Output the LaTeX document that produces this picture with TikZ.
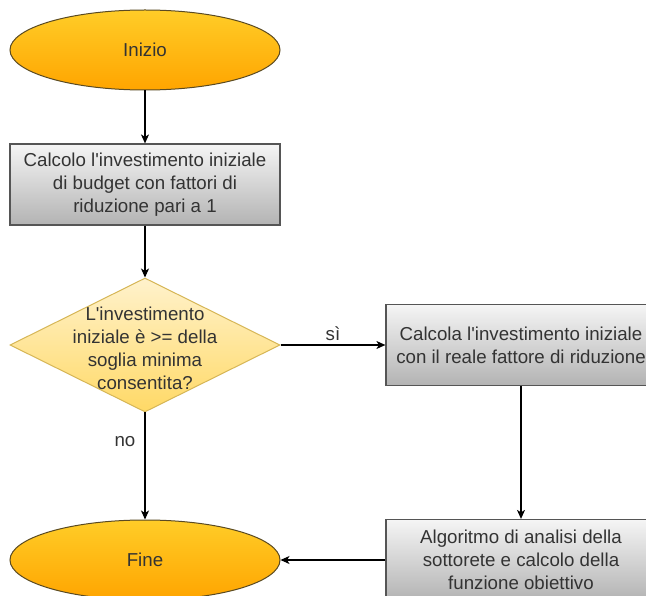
\documentclass[tikz,border=0pt]{standalone}
\usepackage{fontspec}
\setmainfont{Liberation Sans}[Ligatures=TeXOff]
\usetikzlibrary{shapes.geometric,arrows.meta}

\definecolor{termtop}{HTML}{FFCD28}
\definecolor{termbot}{HTML}{FFA500}
\definecolor{termline}{HTML}{5A4A22}
\definecolor{proctop}{HTML}{F5F5F5}
\definecolor{procbot}{HTML}{B3B3B3}
\definecolor{procline}{HTML}{555555}
\definecolor{dectop}{HTML}{FFF2CC}
\definecolor{decbot}{HTML}{FFD966}
\definecolor{decline}{HTML}{D6B656}
\definecolor{ink}{HTML}{333333}

\tikzset{
  txtfont/.style={font=\fontsize{18.7}{23}\selectfont, text=ink, align=center},
  term/.style={ellipse, draw=termline, line width=1pt, top color=termtop, bottom color=termbot,
    minimum width=270pt, minimum height=80pt, inner sep=0pt, txtfont},
  proc/.style={rectangle, draw=procline, line width=1.2pt, top color=proctop, bottom color=procbot,
    minimum width=270pt, minimum height=81pt, inner sep=0pt, txtfont},
  dec/.style={diamond, draw=decline, line width=1pt, top color=dectop, bottom color=decbot,
    minimum width=270pt, minimum height=134pt, inner sep=0pt},
  lbl/.style={txtfont, inner sep=1pt},
  flow/.style={draw=black, line width=1.2pt, -{Stealth[length=9pt,width=8pt,inset=2.5pt]}},
}

\begin{document}
\begin{tikzpicture}[x=1pt,y=-1pt]
  \useasboundingbox (0,0) rectangle (646,596);
  \fill[white] (0,0) rectangle (646,596);
  \clip (0,0) rectangle (646,596);

  % shapes of the flow
  \node[term] (start) at (145,50) {Inizio};
  \node[proc] (init) at (145,184.5) {Calcolo l'investimento iniziale\\di budget con fattori di\\riduzione pari a 1};
  \node[dec] (check) at (145,345) {};
  \node[lbl] (checktext) at (145,348) {L'investimento\\iniziale è >= della\\soglia minima\\consentita?};
  \node[proc] (real) at (521,345) {Calcola l'investimento iniziale\\con il reale fattore di riduzione};
  \node[proc] (algo) at (521,560) {Algoritmo di analisi della\\sottorete e calcolo della\\funzione obiettivo};
  \node[term] (stop) at (145,560) {Fine};

  % connectors
  \draw[flow] (start) -- (init);
  \draw[flow] (init) -- (check);
  \draw[flow] (check) -- node[lbl, pos=0.5, above=3pt] (yes) {sì} (real);
  \draw[flow] (check) -- node[lbl, pos=0.27, left=8pt] (no) {no} (stop);
  \draw[flow] (real) -- (algo);
  \draw[flow] (algo) -- (stop);
\end{tikzpicture}
\end{document}
